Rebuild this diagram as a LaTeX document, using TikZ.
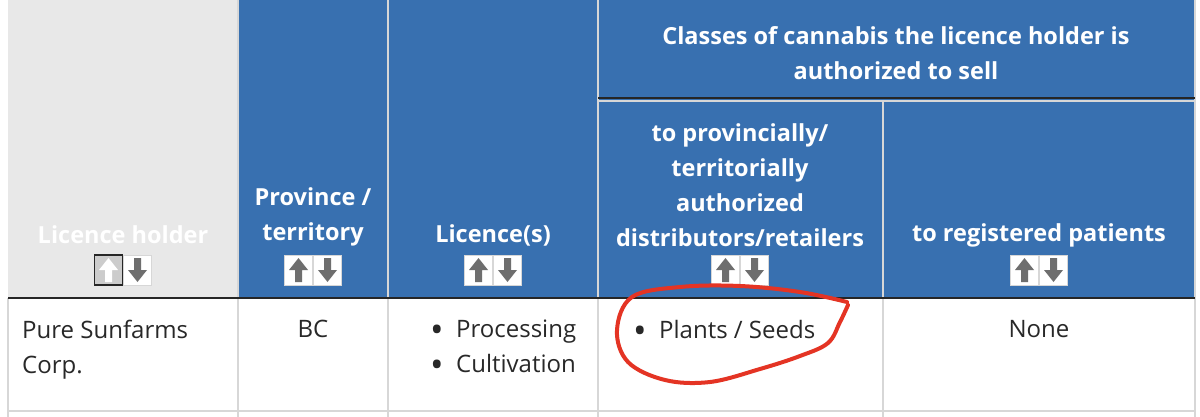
\documentclass[tikz,border=0pt]{standalone}
\usepackage{fontspec}
\setmainfont{Open Sans}
\definecolor{hdr}{RGB}{56,112,176}
\definecolor{gbg}{RGB}{232,232,232}
\definecolor{grid}{RGB}{215,215,215}
\definecolor{arr}{RGB}{110,110,110}
\definecolor{ink}{RGB}{40,40,40}
\definecolor{redpen}{RGB}{228,52,36}
\newcommand{\bul}{\makebox[26pt][l]{\raisebox{-5pt}{\scalebox{1.5}{\textbullet}}}}
\begin{document}
\begin{tikzpicture}[x=1pt,y=-1pt,
  hd/.style={font=\bfseries\fontsize{23.5}{35}\selectfont,text=white,align=center,inner sep=0},
  bd/.style={font=\fontsize{24}{35}\selectfont,text=ink,align=left,inner sep=0},
  sb/.style={draw=grid,line width=1pt,fill=white,minimum width=28pt,minimum height=30pt,inner sep=0}]
\useasboundingbox (0,0) rectangle (1200,417);
\fill[white] (0,0) rectangle (1200,417);
\fill[gbg] (8,0) rectangle (238,298);
\fill[hdr] (238,0) rectangle (1195,298);
\foreach \x in {8,238,388,598,883,1195} \draw[grid,line width=2pt] (\x,298) -- (\x,417);
\foreach \x in {238,388,598,1195} \draw[grid,line width=2pt] (\x,0) -- (\x,298);
\draw[grid,line width=2pt] (883,100) -- (883,298);
\draw[black!85,line width=2pt] (598,98) -- (1195,98);
\draw[grid,line width=1.5pt] (598,101) -- (1195,101);
\draw[black!85,line width=2pt] (8,298) -- (1195,298);
\draw[grid,line width=2pt] (8,411) -- (1195,411);
% header texts
\node[hd] (cls) at (896,53) {Classes of cannabis the licence holder is\\authorized to sell};
\node[hd] (lh) at (123,235) {Licence holder};
\node[hd] (pt) at (313,217) {Province /\\territory};
\node[hd] (lc) at (493,235) {Licence(s)};
\node[hd] (pd) at (740,185) {to provincially/\\territorially\\authorized\\distributors/retailers};
\node[hd] (rp) at (1039,235) {to registered patients};
% sort buttons
\newcommand{\sortpair}[3]{%
  \node[sb] (#1u) at (#2-14.5,#3) {};
  \node[sb] (#1d) at (#2+14.5,#3) {};
  \fill[arr] (#2-14.5,#3-12) -- (#2-24,#3) -- (#2-18,#3) -- (#2-18,#3+12) -- (#2-11,#3+12) -- (#2-11,#3) -- (#2-5,#3) -- cycle;
  \fill[arr] (#2+14.5,#3+12) -- (#2+24,#3) -- (#2+18,#3) -- (#2+18,#3-12) -- (#2+11,#3-12) -- (#2+11,#3) -- (#2+5,#3) -- cycle;}
\sortpair{b}{313}{270}
\sortpair{c}{493}{270}
\sortpair{e}{740}{270}
\sortpair{f}{1039}{270}
\node[sb,draw=black!85,line width=1.5pt,fill=black!20] (au) at (108.5,270) {};
\node[sb] (ad) at (137.5,270) {};
\fill[white] (108.5,258) -- (99,270) -- (105,270) -- (105,282) -- (112,282) -- (112,270) -- (118,270) -- cycle;
\fill[arr] (137.5,282) -- (147,270) -- (141,270) -- (141,258) -- (134,258) -- (134,270) -- (128,270) -- cycle;
% body
\node[bd,anchor=north west] (n1) at (22,320) {Pure Sunfarms\\Corp.};
\node[bd,anchor=north] (n2) at (313,320) {BC};
\node[bd,anchor=north west] (n3) at (430,320) {\bul Processing\\\bul Cultivation};
\node[bd,anchor=north west] (n4) at (633,320) {\bul Plants / Seeds};
\node[bd,anchor=north] (n5) at (1039,320) {None};
% red scribble
\draw[redpen,line width=4pt,line cap=round,line join=round] plot[smooth,tension=0.6] coordinates {(847,302) (800,292) (740,286) (680,287) (632,297) (617,330) (628,362) (665,380) (710,382) (760,369) (800,356) (828,343) (840,322) (848,305)};
\end{tikzpicture}
\end{document}
